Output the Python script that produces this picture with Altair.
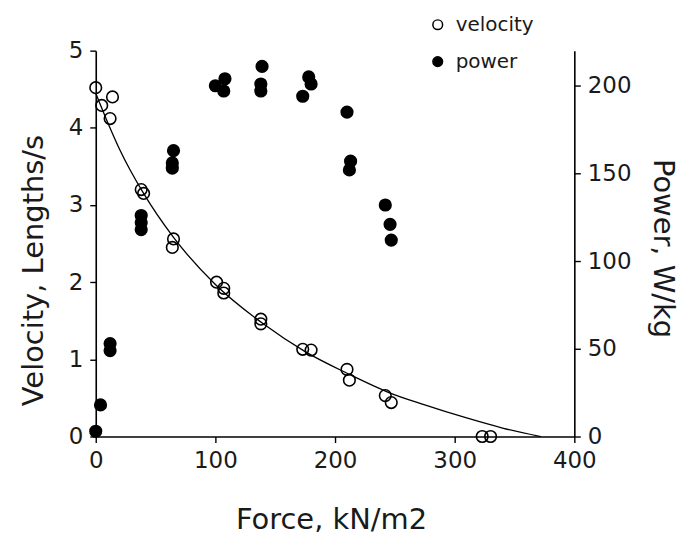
import altair as alt
import pandas as pd

# Velocity (open circles), left axis
vel_force = [0, 5, 14, 12, 38, 40, 65, 64, 101, 107, 107, 138, 138, 173, 180, 210, 212, 242, 247, 323, 330]
vel_value = [4.52, 4.29, 4.40, 4.12, 3.20, 3.15, 2.56, 2.45, 2.00, 1.92, 1.86, 1.52, 1.46, 1.13, 1.12, 0.87, 0.73, 0.53, 0.44, 0.0, 0.0]

# Power (filled circles), right axis
pow_force = [0, 4, 12, 12, 38, 38, 38, 65, 64, 64, 100, 108, 107, 139, 138, 138, 178, 180, 173, 210, 213, 212, 242, 246, 247]
pow_value = [3, 18, 53, 49, 126, 122, 118, 163, 156, 153, 200, 204, 197, 211, 201, 197, 205, 201, 194, 185, 157, 152, 132, 121, 112]

# Fitted force-velocity curve
curve_force = [0, 10, 20, 40, 65, 100, 140, 175, 210, 245, 275, 310, 340, 372]
curve_value = [4.45, 4.07, 3.72, 3.15, 2.58, 1.97, 1.46, 1.10, 0.82, 0.57, 0.41, 0.24, 0.11, 0.0]

x_ticks = [0, 100, 200, 300, 400]
left_ticks = [0, 1, 2, 3, 4, 5]
right_ticks = [0, 50, 100, 150, 200]

vel_df = pd.DataFrame({"force": vel_force, "velocity": vel_value, "series": "velocity"})
pow_df = pd.DataFrame({"force": pow_force, "power": pow_value, "series": "power"})
curve_df = pd.DataFrame({"force": curve_force, "velocity": curve_value})

FONT = "DejaVu Sans"
INK = "#1a1a1a"

x_enc = alt.X(
    "force:Q",
    scale=alt.Scale(domain=[0, 400], nice=False, zero=False),
    axis=alt.Axis(
        values=x_ticks, title="Force, kN/m2", format="d", labelFlush=False,
        titleX=236, titleY=92, titleBaseline="alphabetic", titleAlign="center",
    ),
)

fill_enc = alt.Fill(
    "series:N",
    scale=alt.Scale(domain=["velocity", "power"], range=["transparent", "black"]),
    legend=alt.Legend(
        title=None, orient="none", legendX=333, legendY=-36,
        symbolType="circle", symbolSize=95, symbolStrokeColor="black",
        symbolStrokeWidth=1.5, labelFontSize=20, labelFont=FONT, labelColor=INK,
        rowPadding=17, labelOffset=8, padding=0,
    ),
)

left_axis = alt.Axis(
    values=left_ticks, title="Velocity, Lengths/s", format="d", labelFlush=False,
    titleX=-62, titleY=220, titleBaseline="middle", titleAlign="center", titleAngle=-90,
)

curve = alt.Chart(curve_df).mark_line(color="black", strokeWidth=1.3, interpolate="monotone").encode(
    x=x_enc,
    y=alt.Y("velocity:Q", scale=alt.Scale(domain=[0, 5], nice=False), axis=left_axis),
)

vel = alt.Chart(vel_df).mark_point(shape="circle", size=135, strokeWidth=1.6, stroke="black", opacity=1).encode(
    x=x_enc,
    y=alt.Y("velocity:Q", scale=alt.Scale(domain=[0, 5], nice=False), axis=left_axis),
    fill=fill_enc,
)

pw = alt.Chart(pow_df).mark_point(shape="circle", size=135, strokeWidth=1.6, stroke="black", opacity=1).encode(
    x=x_enc,
    y=alt.Y(
        "power:Q",
        scale=alt.Scale(domain=[0, 220], nice=False),
        axis=alt.Axis(
            orient="right", values=right_ticks, title="Power, W/kg", format="d", labelFlush=False,
            titleX=88, titleY=198, titleBaseline="middle", titleAlign="center", titleAngle=90,
        ),
    ),
    fill=fill_enc,
)

chart = alt.layer(alt.layer(curve, vel), pw).resolve_scale(y="independent").properties(
    width=480, height=387,
    autosize="none",
    padding={"left": 88, "top": 42, "right": 110, "bottom": 100},
).configure_view(stroke=None).configure_axis(
    domainColor="black", domainWidth=1.6, tickColor="black", tickWidth=1.4, tickSize=6,
    labelFont=FONT, labelFontSize=23, labelColor=INK, labelPadding=7,
    titleFont=FONT, titleFontSize=29, titleFontWeight="normal", titleColor=INK,
    grid=False,
)

chart.save("out.html", embed_options={"renderer": "svg", "actions": False})
